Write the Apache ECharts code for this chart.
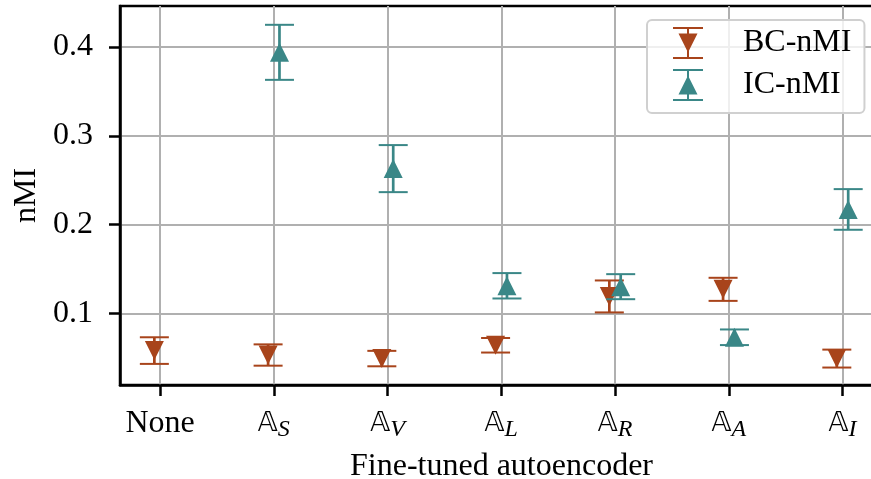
<!DOCTYPE html>
<html>
<head>
<meta charset="utf-8">
<script src="https://cdn.jsdelivr.net/npm/echarts@6/dist/echarts.min.js"></script>
<style>
  html, body { margin: 0; padding: 0; background: #fff; }
  #chart { width: 871px; height: 479px; }
</style>
</head>
<body>
<div id="chart"></div>
<script>
// categories on the x axis (None + the fine-tuned autoencoders, subscript letters)
const categories = ['None', 'S', 'V', 'L', 'R', 'A', 'I'];

// BC-nMI: mean and error (half length of the error bar)
const bcMean = [0.058, 0.053, 0.049, 0.064, 0.119, 0.127, 0.049];
const bcErr = [0.015, 0.012, 0.0087, 0.0082, 0.018, 0.013, 0.0101];

// IC-nMI: no value for None
const icMean = [null, 0.394, 0.263, 0.131, 0.130, 0.073, 0.217];
const icErr = [null, 0.031, 0.0265, 0.0143, 0.0141, 0.0088, 0.0229];

const yTicks = [0.1, 0.2, 0.3, 0.4];

const BC_COLOR = '#a8441b';
const IC_COLOR = '#3a8787';
const SERIF = "'Liberation Serif', 'DejaVu Serif', serif";

const shift = 0.05; // BC drawn a bit left, IC a bit right

const bcData = bcMean.map((v, i) => [i - shift, v, bcErr[i]]);
const icData = [];
icMean.forEach((v, i) => {
	if (v !== null) icData.push([i + shift, v, icErr[i]]);
});

function errorBars(color) {
	return function (params, api) {
		const x = api.value(0);
		const v = api.value(1);
		const e = api.value(2);
		const top = api.coord([x, v + e]);
		const bot = api.coord([x, v - e]);
		const hw = 14.5;
		return {
			type: 'group',
			children: [
				{ type: 'line', shape: { x1: top[0], y1: top[1], x2: bot[0], y2: bot[1] }, style: { stroke: color, lineWidth: 2.7 } },
				{ type: 'line', shape: { x1: top[0] - hw, y1: top[1], x2: top[0] + hw, y2: top[1] }, style: { stroke: color, lineWidth: 2 } },
				{ type: 'line', shape: { x1: bot[0] - hw, y1: bot[1], x2: bot[0] + hw, y2: bot[1] }, style: { stroke: color, lineWidth: 2 } },
			],
		};
	};
}

const chart = echarts.init(document.getElementById('chart'), null, { renderer: 'canvas' });

const option = {
	animation: false,
	backgroundColor: '#fff',
	grid: {
		show: true,
		left: 120,
		top: 6,
		width: 763,
		height: 379,
		outerBoundsMode: 'none',
		containLabel: false,
		borderColor: '#000',
		borderWidth: 2.5,
		backgroundColor: 'transparent',
	},
	legend: {
		orient: 'vertical',
		align: 'left',
		left: 647,
		top: 20,
		padding: [7, 13, 12, 26],
		itemWidth: 65,
		itemHeight: 32,
		itemGap: 10,
		backgroundColor: 'rgba(255,255,255,0.8)',
		borderColor: '#d0d0d0',
		borderWidth: 2,
		borderRadius: 5,
		selectedMode: false,
		textStyle: { fontFamily: SERIF, fontSize: 32, color: '#000' },
		data: [
			{ name: 'BC-nMI', icon: 'path://M65 16M0 0H30V2H0ZM0 30H30V32H0ZM14 0H16V32H14ZM5.5 6.5H24.5L15 25.5Z' },
			{ name: 'IC-nMI', icon: 'path://M65 16M0 0H30V2H0ZM0 30H30V32H0ZM14 0H16V32H14ZM15 6.5L24.5 25.5H5.5Z' },
		],
	},
	xAxis: {
		type: 'value',
		min: -0.352,
		max: 6.356,
		name: 'Fine-tuned autoencoder',
		nameLocation: 'middle',
		nameGap: 66,
		nameTextStyle: { fontFamily: SERIF, fontSize: 32, color: '#000' },
		axisLine: { show: true, onZero: false, lineStyle: { color: '#000', width: 2.5 } },
		axisTick: {
			show: true,
			length: 11,
			lineStyle: { color: '#000', width: 2.5 },
			customValues: categories.map((c, i) => i),
		},
		axisLabel: {
			margin: 19,
			customValues: categories.map((c, i) => i),
			formatter: (val) => {
				const c = categories[Math.round(val)];
				if (c === 'None') return '{n|None}';
				return '{a|\u{1D538}}{s|' + c + '}';
			},
			rich: {
				n: { fontFamily: SERIF, fontSize: 32, lineHeight: 40, color: '#000' },
				a: { fontFamily: "'DejaVu Sans', 'DejaVu Serif', sans-serif", fontSize: 27, lineHeight: 40, color: '#000' },
				s: { fontFamily: SERIF, fontStyle: 'italic', fontSize: 24, lineHeight: 28, padding: [12, 0, 0, 0], color: '#000' },
			},
		},
		splitLine: {
			show: true,
			lineStyle: { color: '#b0b0b0', width: 2 },
			customValues: categories.map((c, i) => i),
		},
	},
	yAxis: {
		type: 'value',
		min: 0.01923,
		max: 0.44619,
		name: 'nMI',
		nameLocation: 'middle',
		nameGap: 63,
		nameTextStyle: { fontFamily: SERIF, fontSize: 32, color: '#000' },
		axisLine: { show: true, onZero: false, lineStyle: { color: '#000', width: 2.5 } },
		axisTick: {
			show: true,
			length: 11,
			lineStyle: { color: '#000', width: 2.5 },
			customValues: yTicks,
		},
		axisLabel: {
			margin: 27,
			fontFamily: SERIF,
			fontSize: 32,
			color: '#000',
			customValues: yTicks,
			formatter: (val) => val.toFixed(1),
		},
		splitLine: {
			show: true,
			lineStyle: { color: '#b0b0b0', width: 2 },
			customValues: yTicks,
		},
	},
	series: [
		{
			name: 'BC-nMI',
			type: 'custom',
			z: 2,
			itemStyle: { color: BC_COLOR },
			renderItem: errorBars(BC_COLOR),
			encode: { x: 0, y: 1 },
			data: bcData,
		},
		{
			name: 'BC-nMI',
			type: 'scatter',
			z: 3,
			symbol: 'path://M0 0L2 0L1 2Z',
			symbolSize: 19,
			itemStyle: { color: BC_COLOR, opacity: 1 },
			data: bcData,
		},
		{
			name: 'IC-nMI',
			type: 'custom',
			z: 4,
			itemStyle: { color: IC_COLOR },
			renderItem: errorBars(IC_COLOR),
			encode: { x: 0, y: 1 },
			data: icData,
		},
		{
			name: 'IC-nMI',
			type: 'scatter',
			z: 5,
			symbol: 'triangle',
			symbolSize: 19,
			itemStyle: { color: IC_COLOR, opacity: 1 },
			data: icData,
		},
	],
};

chart.setOption(option);
</script>
</body>
</html>
